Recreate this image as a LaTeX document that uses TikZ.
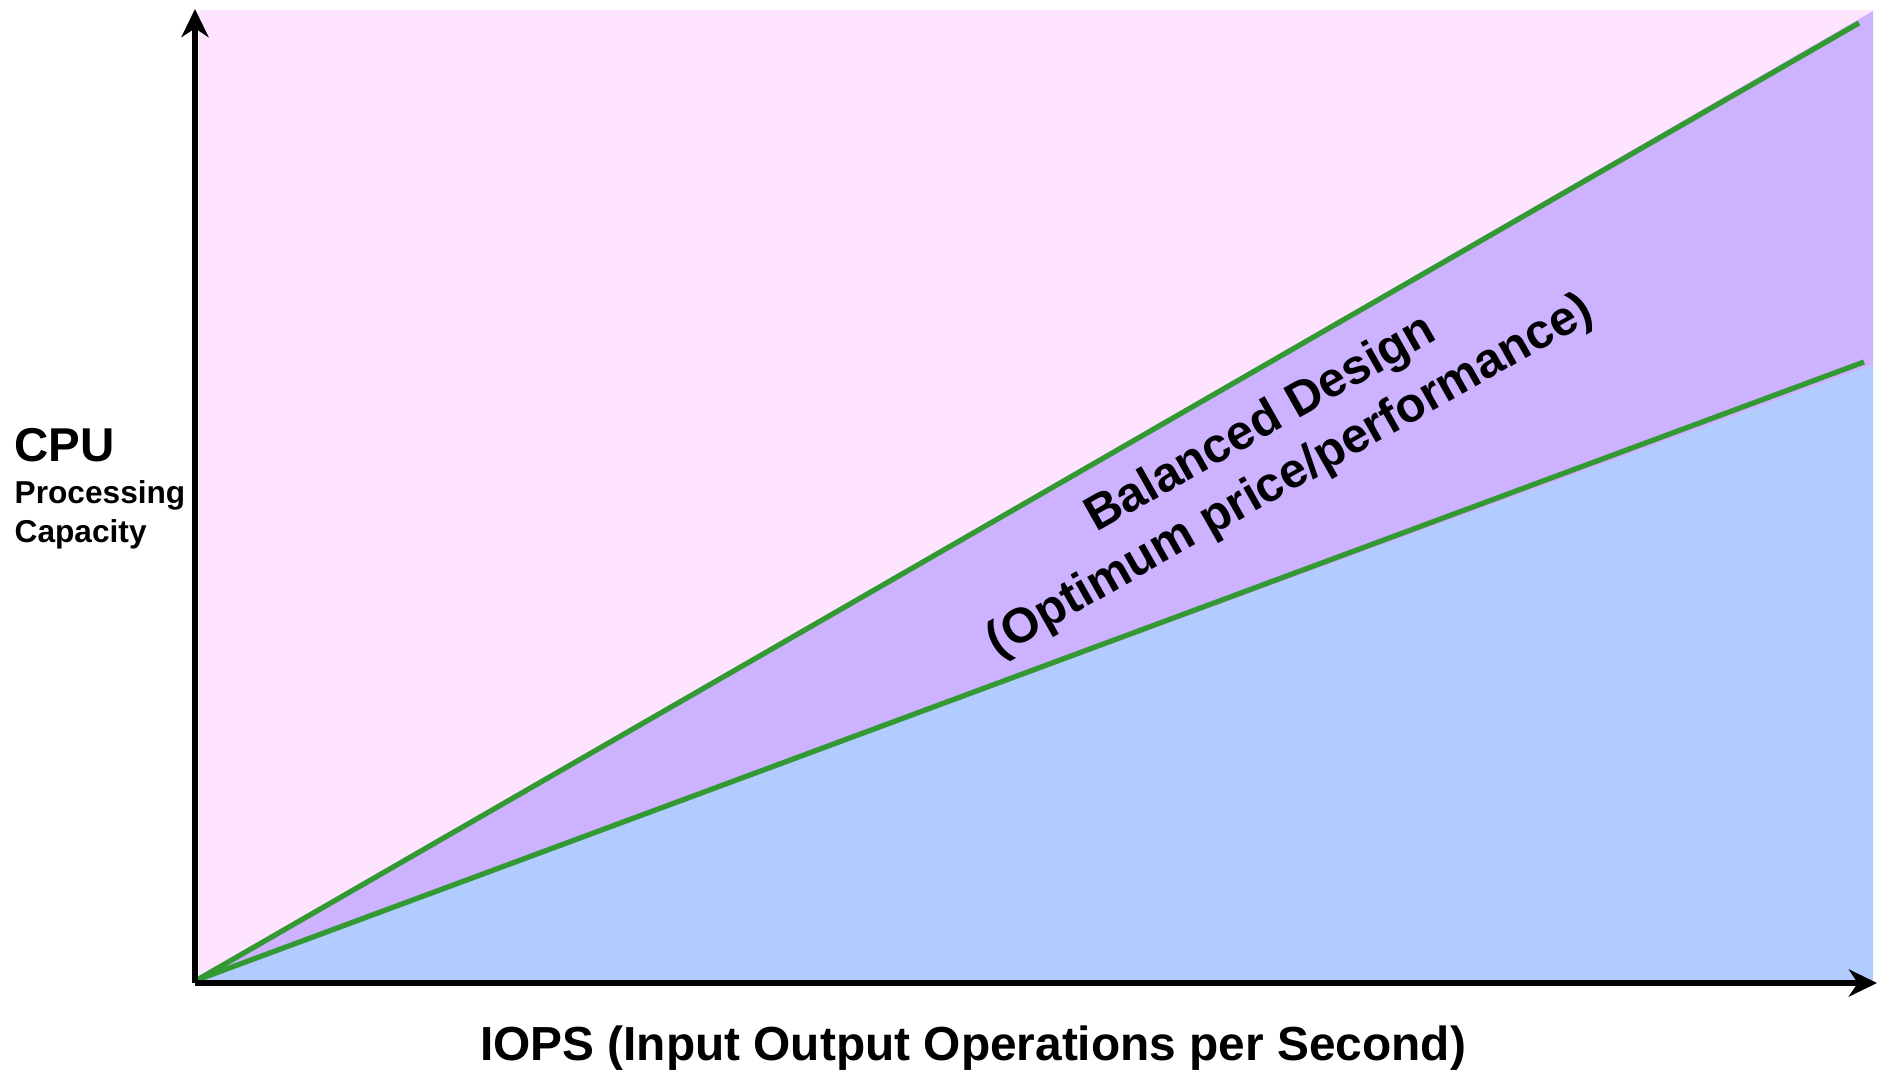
\documentclass[tikz,border=0pt]{standalone}
\usepackage{fontspec}
\setmainfont{Liberation Sans}
\usetikzlibrary{arrows.meta}
\definecolor{pinkzone}{RGB}{255,228,255}
\definecolor{balzone}{RGB}{205,178,255}
\definecolor{bluezone}{RGB}{178,204,255}
\definecolor{balline}{RGB}{51,153,51}
\begin{document}
\begin{tikzpicture}[x=0.01cm, y=-0.01cm, font=\bfseries,
		axis/.style={line width=1.7pt, -{Stealth[length=8pt, width=7.7pt, inset=2.5pt]}},
		bound/.style={line width=1.5pt, balline}]
			\useasboundingbox (0,0) rectangle (1878,1070);
			\coordinate (orig) at (197,980);
			\coordinate (ytip) at (195,9);
			\coordinate (xtip) at (1877,983);
			\coordinate (hi) at (1859,23);
			\coordinate (lo) at (1864,362);
			% zones
			\fill[pinkzone] (199,10) rectangle (1873,980);
			\fill[balzone] (orig) -- (1873,11) -- (1873,365) -- cycle;
			\fill[bluezone] (orig) -- (1873,365) -- (1873,980) -- cycle;
			\draw[bound] (orig) -- (hi);
			\draw[bound] (orig) -- (lo);
			% axes
			\draw[axis] (195,983) -- (ytip);
			\draw[axis] (195,983) -- (xtip);
			\node[anchor=base west, inner sep=0pt, font=\bfseries\fontsize{13.5}{16}\selectfont] (cpu) at (14,462) {CPU};
			\node[anchor=base west, inner sep=0pt, font=\bfseries\fontsize{9}{11}\selectfont] (proc) at (14,503) {Processing};
			\node[anchor=base west, inner sep=0pt, font=\bfseries\fontsize{9}{11}\selectfont] (capa) at (14,542) {Capacity};
			\node[anchor=base, inner sep=0pt, font=\bfseries\fontsize{13.6}{16}\selectfont] (iops) at (973,1060) {IOPS (Input Output Operations per Second)};
			\node[rotate=29.5, align=center, inner sep=0pt, font=\bfseries\fontsize{13.9}{17}\selectfont] (bal) at (1276,451) {Balanced Design\\(Optimum price/performance)};
\end{tikzpicture}
\end{document}
